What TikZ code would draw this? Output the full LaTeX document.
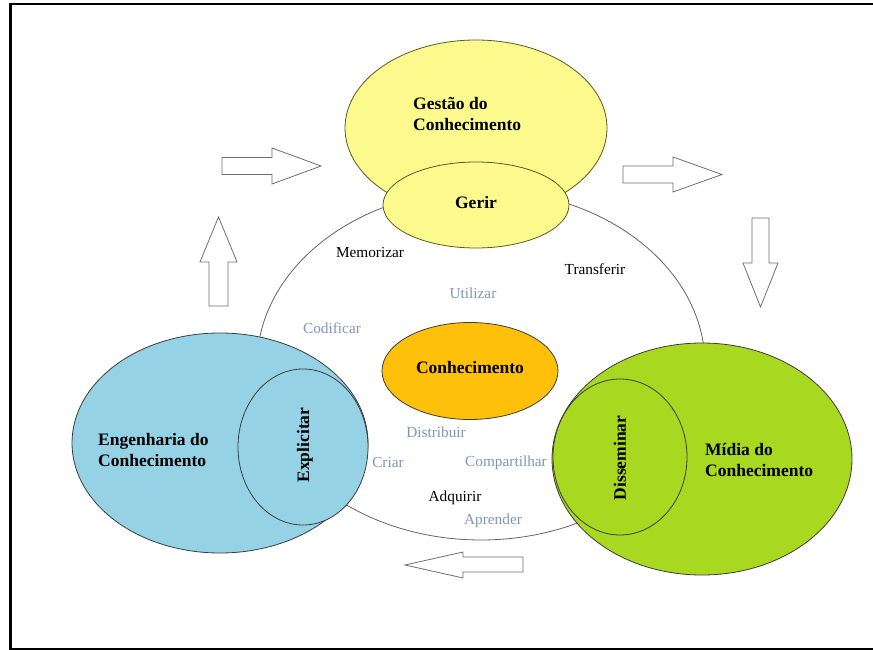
\documentclass[tikz,border=0pt]{standalone}
\usepackage{fontspec}
\setmainfont{Liberation Serif}
\usetikzlibrary{shapes.geometric}

\definecolor{gestaoFill}{RGB}{252,250,140}
\definecolor{gestaoLine}{RGB}{90,90,40}
\definecolor{engFill}{RGB}{150,210,230}
\definecolor{midiaFill}{RGB}{168,216,32}
\definecolor{conhFill}{RGB}{255,192,10}
\definecolor{darkLine}{RGB}{60,60,60}
\definecolor{cycleLine}{RGB}{100,100,100}
\definecolor{arrowLine}{RGB}{110,110,110}
\definecolor{softBlue}{RGB}{128,150,188}

\begin{document}
\begin{tikzpicture}[x=1pt,y=-1pt,
  blob/.style={ellipse, inner sep=0pt, line width=0.8pt},
  title/.style={font=\bfseries\fontsize{17.5}{21.5}\selectfont, align=left, inner sep=0pt},
  verb/.style={font=\fontsize{15.3}{18}\selectfont, inner sep=0pt},
  verbsoft/.style={verb, text=softBlue},
  blockarrow/.style={draw=arrowLine, fill=white, line width=0.8pt, line join=miter}]

\useasboundingbox (0,0) rectangle (873,650);

% outer frame, open on the right
\draw[line width=2.4pt] (873,4.3) -- (10.5,4.3) -- (10.5,649) -- (873,649);

% knowledge cycle
\node[blob, draw=cycleLine, fill=white, minimum width=448pt, minimum height=350pt] (ciclo) at (481,365) {};

% management
\node[blob, draw=gestaoLine, fill=gestaoFill, minimum width=262pt, minimum height=176pt] (gestao) at (476,128) {};
\node[blob, draw=gestaoLine, fill=gestaoFill, minimum width=186pt, minimum height=86pt] (gerir) at (476,205) {};
\node[title, anchor=west] (tgestao) at (413,114) {Gestão do\\Conhecimento};
\node[title] (tgerir) at (476,203) {Gerir};

% engineering
\node[blob, draw=darkLine, fill=engFill, minimum width=296pt, minimum height=220pt] (eng) at (220,443) {};
\node[blob, draw=darkLine, fill=engFill, minimum width=130pt, minimum height=156pt] (explicitar) at (303,447) {};
\node[title, anchor=west] (teng) at (98,450) {Engenharia do\\Conhecimento};
\node[title, rotate=90] (texplicitar) at (305,445) {Explicitar};

% media
\node[blob, draw=darkLine, fill=midiaFill, minimum width=300pt, minimum height=232pt] (midia) at (702,459) {};
\node[blob, draw=darkLine, fill=midiaFill, minimum width=134pt, minimum height=156pt] (disseminar) at (620,457) {};
\node[title, anchor=west] (tmidia) at (705,460) {Mídia do\\Conhecimento};
\node[title, rotate=90] (tdisseminar) at (620,458) {Disseminar};

% knowledge core
\node[blob, draw=darkLine, fill=conhFill, minimum width=176pt, minimum height=97pt] (conh) at (470,371) {};
\node[title] (tconh) at (470,368) {Conhecimento};

% process verbs
\node[verb] (memorizar) at (370,253) {Memorizar};
\node[verb] (transferir) at (595,269) {Transferir};
\node[verbsoft] (utilizar) at (473,293) {Utilizar};
\node[verbsoft] (codificar) at (332,328) {Codificar};
\node[verbsoft] (distribuir) at (436,432) {Distribuir};
\node[verbsoft] (criar) at (388,463) {Criar};
\node[verbsoft] (compartilhar) at (506,463) {Compartilhar};
\node[verb] (adquirir) at (455,498) {Adquirir};
\node[verbsoft] (aprender) at (493,521) {Aprender};

% flow arrows
\draw[blockarrow] (222,157.5) -- (272,157.5) -- (272,148) -- (321,166) -- (272,184) -- (272,174.5) -- (222,174.5) -- cycle;
\draw[blockarrow] (623,166) -- (673,166) -- (673,157) -- (722,174.5) -- (673,192) -- (673,183) -- (623,183) -- cycle;
\draw[blockarrow] (752,218) -- (769,218) -- (769,263) -- (778,263) -- (760.5,307) -- (743,263) -- (752,263) -- cycle;
\draw[blockarrow] (209,306) -- (228,306) -- (228,262) -- (237,262) -- (218.5,217) -- (200,262) -- (209,262) -- cycle;
\draw[blockarrow] (523,557) -- (463,557) -- (463,552) -- (405,565) -- (463,578) -- (463,572) -- (523,572) -- cycle;

\end{tikzpicture}
\end{document}
